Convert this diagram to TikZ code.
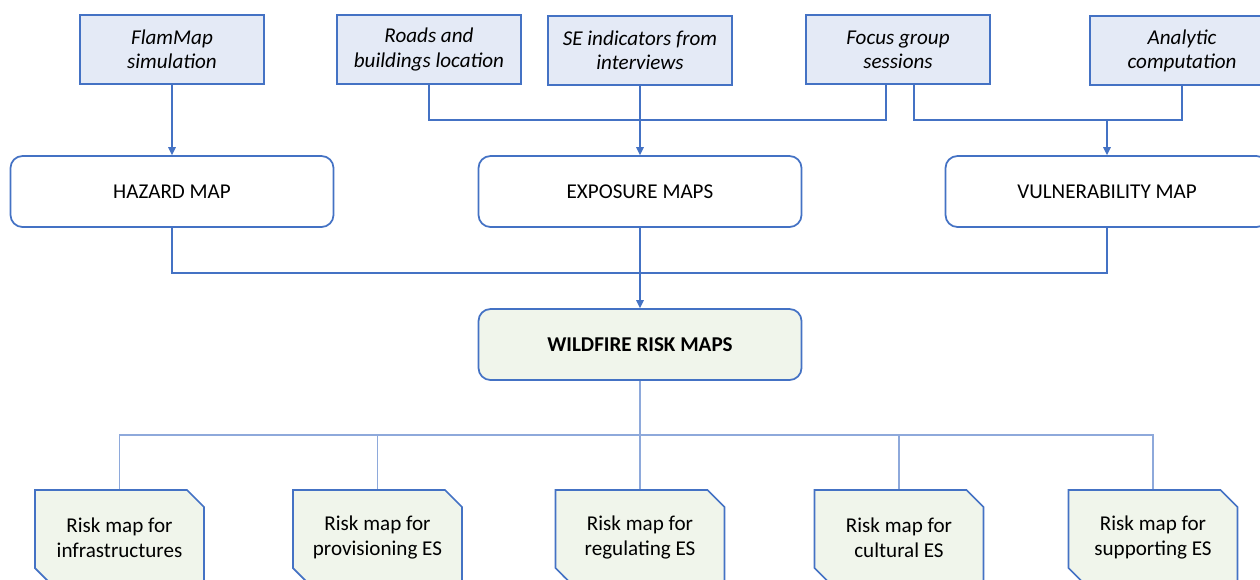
\documentclass[tikz,border=0pt]{standalone}
\usepackage{fontspec}
\setmainfont{Carlito}
\usetikzlibrary{arrows.meta,shapes.misc}

\definecolor{lineblue}{HTML}{4472C4}
\definecolor{treeblue}{HTML}{8EA9DB}
\definecolor{srcfill}{HTML}{E4EAF6}
\definecolor{riskfill}{HTML}{F0F5EB}

\tikzset{
    srcbox/.style={draw=lineblue, fill=srcfill, line width=1pt, minimum width=3.68cm,
        minimum height=1.38cm, align=center, font=\fontsize{12}{13.7}\selectfont\itshape},
    mapbox/.style={draw=lineblue, fill=white, line width=1pt, rounded corners=0.24cm,
        minimum width=6.46cm, minimum height=1.42cm, font=\fontsize{12}{13.7}\selectfont},
    esbox/.style={chamfered rectangle, chamfered rectangle corners={north east,south west},
        chamfered rectangle sep=0.17cm, draw=lineblue, fill=riskfill, line width=1pt,
        minimum width=3.38cm, minimum height=1.9cm, align=center,
        font=\fontsize{12}{14.2}\selectfont},
    conn/.style={draw=lineblue, line width=0.9pt},
    tree/.style={draw=treeblue, line width=0.7pt},
    >={Triangle[length=1.6mm,width=1.5mm]}
}

\begin{document}
\begin{tikzpicture}[x=0.2mm, y=-0.2mm]
    \useasboundingbox (0,0) rectangle (1260,579);
    \clip (0,0) rectangle (1260,579);

    % data sources
    \node[srcbox] (flammap) at (172,49.5) {FlamMap\\simulation};
    \node[srcbox] (roads) at (429,49.5) {Roads and\\buildings location};
    \node[srcbox] (seind) at (640,50.5) {SE indicators from\\interviews};
    \node[srcbox] (focus) at (898,49.5) {Focus group\\sessions};
    \node[srcbox] (analytic) at (1182,50.5) {Analytic\\computation};

    % component maps
    \node[mapbox] (hazard) at (172,191.5) {HAZARD MAP};
    \node[mapbox] (exposure) at (640,191.5) {EXPOSURE MAPS};
    \node[mapbox] (vuln) at (1107,191.5) {VULNERABILITY MAP};
    \node[mapbox, fill=riskfill, font=\fontsize{12}{13.7}\selectfont\bfseries] (wildfire) at (640,344.5) {WILDFIRE RISK MAPS};

    % risk maps per ES
    \node[esbox] (infra) at (119.5,537.5) {Risk map for\\infrastructures};
    \node[esbox] (prov) at (377.5,537.5) {Risk map for\\provisioning ES};
    \node[esbox] (regul) at (640,537.5) {Risk map for\\regulating ES};
    \node[esbox] (cult) at (899,537.5) {Risk map for\\cultural ES};
    \node[esbox] (supp) at (1153,537.5) {Risk map for\\supporting ES};

    \coordinate (expjoin) at (640,120);
    \coordinate (vuljoin) at (1107,120);
    \coordinate (riskjoin) at (640,273);
    \coordinate (esjoin) at (640,435);

    \draw[conn,->] (flammap) -- (hazard);
    \draw[conn] (roads.south) |- (expjoin) -| ([xshift=-0.24cm]focus.south);
    \draw[conn,->] (seind) -- (exposure);
    \draw[conn] ([xshift=0.32cm]focus.south) |- (vuljoin) -| (analytic.south);
    \draw[conn,->] (vuljoin) -- (vuln);

    \draw[conn] (hazard.south) |- (riskjoin) -| (vuln.south);
    \draw[conn,->] (exposure) -- (wildfire);

    \draw[tree] (wildfire.south) -- (esjoin);
    \foreach \es in {infra,prov,regul,cult,supp}
        \draw[tree] (esjoin) -| (\es.north);
\end{tikzpicture}
\end{document}
